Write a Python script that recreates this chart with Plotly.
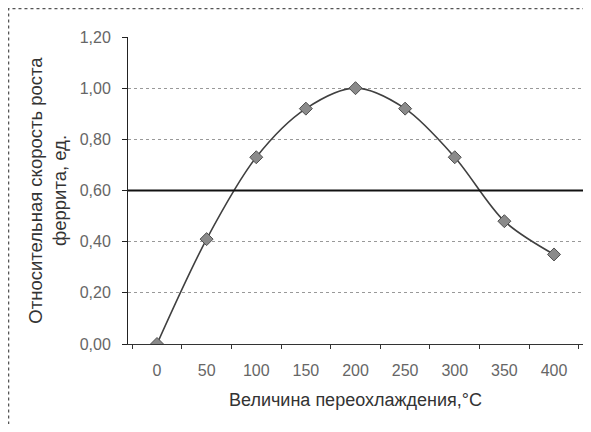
import plotly.graph_objects as go

# Data
supercooling = ["0", "50", "100", "150", "200", "250", "300", "350", "400"]
growth_rate = [0.00, 0.41, 0.73, 0.92, 1.00, 0.92, 0.73, 0.48, 0.35]
y_ticks = [0.0, 0.2, 0.4, 0.6, 0.8, 1.0, 1.2]
ref_level = 0.6

x_title = "Величина переохлаждения,°C"
y_title = "Относительная скорость роста<br>феррита, ед."

FONT = "Liberation Sans, Arial, sans-serif"

fig = go.Figure()
fig.add_trace(go.Scatter(
    x=supercooling,
    y=growth_rate,
    mode="lines+markers",
    line=dict(color="#404040", width=1.6, shape="spline", smoothing=0.9),
    marker=dict(symbol="diamond", size=10, color="#8a8a8a",
                line=dict(color="#505050", width=1)),
    showlegend=False,
))

# page body has an 8px margin, so the figure fills 575x416 inside the 591x432 window
fig.update_layout(
    width=575, height=416,
    margin=dict(l=120, r=0, t=29, b=80),
    paper_bgcolor="white",
    plot_bgcolor="white",
    separators=", ",
    font=dict(family=FONT, size=16, color="#333"),
    xaxis=dict(
        type="category",
        tickson="boundaries",
        ticks="outside", ticklen=4, tickcolor="#333",
        showline=True, linecolor="#333", linewidth=1,
        showgrid=False,
        tickfont=dict(size=16, color="#666"),
        ticklabelstandoff=12,
        title=dict(text=x_title, font=dict(size=18, color="#333"), standoff=15),
        automargin=False,
    ),
    yaxis=dict(
        range=[0, 1.2],
        tickvals=y_ticks,
        tickformat=".2f",
        ticks="outside", ticklen=5, tickcolor="#222",
        showline=True, linecolor="#222", linewidth=1,
        showgrid=True, gridcolor="#999", griddash="dot", gridwidth=1,
        zeroline=False,
        tickfont=dict(size=16, color="#666"),
        ticklabelstandoff=8,
        title=dict(text=y_title, font=dict(size=18.5, color="#333"), standoff=8),
        automargin=False,
    ),
)

# reference level line (solid black gridline)
fig.add_shape(type="line", xref="paper", yref="y", x0=0, x1=1,
              y0=ref_level, y1=ref_level,
              line=dict(color="#111", width=1.8))

# outer chart border (dotted)
fig.add_shape(type="rect", xref="paper", yref="paper",
              x0=-0.2626, x1=1.1, y0=-0.5, y1=1.0928,
              line=dict(color="#555", width=1.5, dash="dot"),
              layer="below")

fig.write_html("out.html")
